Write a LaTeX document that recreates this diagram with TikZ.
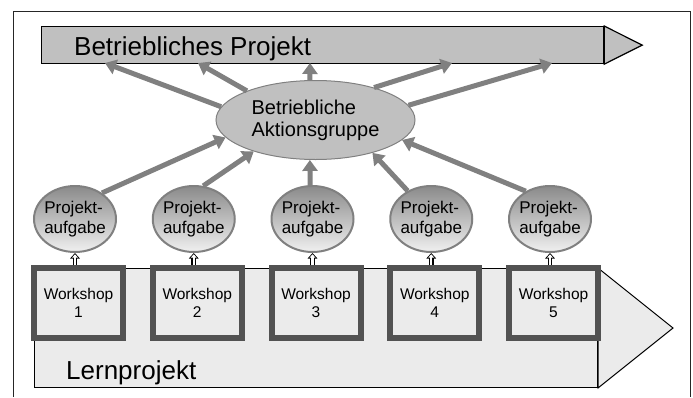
\documentclass[tikz,border=0pt]{standalone}
\usepackage{fontspec}
\setmainfont{Liberation Sans}
\usetikzlibrary{arrows.meta,shapes.geometric}

\definecolor{bargrey}{HTML}{C0C0C0}
\definecolor{lerngrey}{HTML}{EBEBEB}
\definecolor{wsgrey}{HTML}{525252}
\definecolor{flowgrey}{HTML}{808080}
\definecolor{padark}{HTML}{8A8A8A}
\definecolor{palight}{HTML}{F0F0F0}

\tikzset{
  bigtext/.style={font=\fontsize{26}{30}\selectfont, inner sep=0pt, anchor=base west},
  barbox/.style={draw, line width=1.2pt, fill=bargrey, anchor=north west, inner sep=0pt},
  lernbox/.style={draw, line width=1pt, fill=lerngrey, anchor=north west, inner sep=0pt},
  agroup/.style={ellipse, draw=flowgrey, line width=1pt, fill=bargrey, inner sep=0pt,
    minimum width=199pt, minimum height=79pt, align=left,
    font=\fontsize{20}{22}\selectfont},
  task/.style={ellipse, draw=flowgrey, line width=2pt, top color=padark, bottom color=palight,
    inner sep=-3pt, minimum width=82pt, minimum height=66pt, align=left,
    font=\fontsize{17}{20}\selectfont},
  wshop/.style={rectangle, draw=wsgrey, line width=6pt, fill=lerngrey,
    minimum width=89pt, minimum height=70pt, align=center,
    font=\fontsize{15.5}{17.5}\selectfont},
  flow/.style={draw=flowgrey, line width=5pt, -{Triangle[length=11pt,width=15pt]}},
  hollowout/.style={line width=4.6pt, black, -{Triangle[length=5.5pt,width=9.5pt]}},
  hollowin/.style={line width=2.2pt, white, shorten >=1.4pt, -{Triangle[length=3.2pt,width=5.8pt]}}
}

\begin{document}
\begin{tikzpicture}[x=1pt, y=-1pt]
    \useasboundingbox (0,0) rectangle (693,397);

    % Frame
    \draw[line width=1pt, black!85] (13,397) -- (13,11) -- (690,11) -- (690,397);

    % Betriebliches Projekt (top arrow)
    \node[barbox, minimum width=562pt, minimum height=37pt] (proj) at (41,26) {};
    \draw[line width=1.2pt, fill=bargrey] (proj.north east) -- ([xshift=38pt]proj.east) -- (proj.south east) -- cycle;
    \node[bigtext] (projtext) at ([xshift=33pt, yshift=9pt]proj.south west) {Betriebliches Projekt};

    % Lernprojekt (bottom arrow)
    \node[lernbox, minimum width=563pt, minimum height=119pt] (lern) at (34,268) {};
    \draw[line width=1pt, fill=lerngrey] (lern.north east) -- ([xshift=75pt]lern.east) -- (lern.south east) -- cycle;
    \node[bigtext] (lerntext) at ([xshift=32pt, yshift=9pt]lern.south west) {Lernprojekt};

    % Aktionsgruppe
    \node[agroup] (ag) at (315.5,120) {Betriebliche\\Aktionsgruppe};

    % Workshops and tasks
    \foreach \i in {1,...,5} {
        \node[wshop] (w\i) at ({78.5+118.75*(\i-1)},303) {Workshop\\\i};
        \node[task] (p\i) at ({75+118.75*(\i-1)},219) {Projekt-\\aufgabe};
        \draw[hollowout] (p\i.south |- w\i.north) -- (p\i.south);
        \draw[hollowin] (p\i.south |- w\i.north) -- (p\i.south);
    }

    % Targets on the project bar
    \coordinate (t1) at (105,63);
    \coordinate (t2) at (198,63);
    \coordinate (t3) at (310,63);
    \coordinate (t4) at (452,63);
    \coordinate (t5) at (552,63);

    % Arrows: group -> project
    \draw[flow] (ag.172.6) -- (t1);
    \draw[flow] (ag.157) -- (t2);
    \draw[flow] (ag.98) -- (t3);
    \draw[flow] (ag.29.5) -- (t4);
    \draw[flow] (ag.9) -- (t5);

    % Arrows: tasks -> group
    \draw[flow] (p1.44) -- (ag.191);
    \draw[flow] (p2.74) -- (ag.207);
    \draw[flow] (p3.94) -- (ag.262);
    \draw[flow] (p4.130) -- (ag.330);
    \draw[flow] (p5.131.5) -- (ag.347);
\end{tikzpicture}
\end{document}
